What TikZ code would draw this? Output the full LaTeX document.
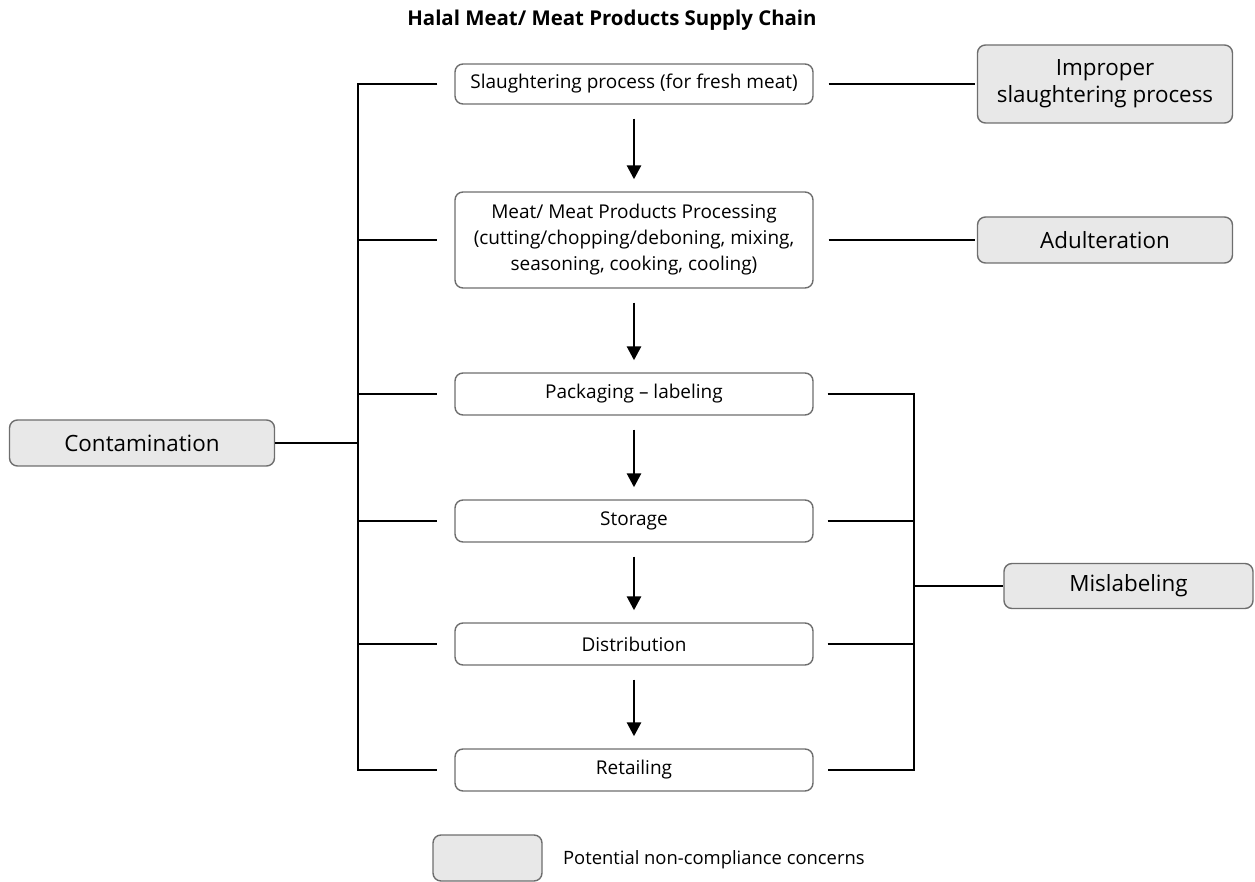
\documentclass[tikz,border=0pt]{standalone}
\usepackage{fontspec}
\setmainfont{Open Sans}
\usetikzlibrary{arrows.meta}

\definecolor{boxgray}{HTML}{E8E8E8}
\definecolor{edgegray}{HTML}{6E6E6E}

\begin{document}
\begin{tikzpicture}[x=0.5pt,y=-0.5pt,
    stage/.style={draw=edgegray,line width=0.7pt,rounded corners=4pt,fill=white,
      minimum width=179pt,minimum height=20pt,inner sep=0pt,align=center,
      font=\fontsize{9.5}{13}\selectfont},
    concern/.style={draw=edgegray,line width=0.7pt,rounded corners=4pt,fill=boxgray,
      minimum width=127.5pt,minimum height=23pt,inner sep=0pt,align=center,
      font=\fontsize{11.2}{13.5}\selectfont},
    link/.style={line width=1pt},
    flow/.style={line width=1.4pt,-{Triangle[length=7pt,width=7pt]},
      shorten <=7pt,shorten >=6pt}]
  \useasboundingbox (0,0) rectangle (1255,882);
  \node[font=\bfseries\fontsize{10.2}{12}\selectfont] (title) at (612,20)
    {Halal Meat/ Meat Products Supply Chain};

  \node[stage] (slaughter) at (634,84) {Slaughtering process (for fresh meat)};
  \node[stage,minimum height=48pt] (processing) at (634,240)
    {Meat/ Meat Products Processing\\(cutting/chopping/deboning, mixing,\\seasoning, cooking, cooling)};
  \node[stage,minimum height=21pt] (packaging) at (634,394) {Packaging -- labeling};
  \node[stage,minimum height=21pt] (storage) at (634,521) {Storage};
  \node[stage,minimum height=21pt] (distribution) at (634,644) {Distribution};
  \node[stage,minimum height=21pt] (retailing) at (634,770) {Retailing};

  \node[concern,minimum height=39pt] (improper) at (1105,84) {Improper\\slaughtering process};
  \node[concern] (adulteration) at (1105,240) {Adulteration};
  \node[concern,minimum width=132.5pt] (contamination) at (142,443) {Contamination};
  \node[concern,minimum width=124.5pt,minimum height=22.5pt] (mislabeling) at (1128.5,586) {Mislabeling};

  \node[concern,minimum width=54.5pt] (legend) at (487.5,858) {};
  \node[anchor=west,font=\fontsize{9.2}{11}\selectfont] (legendtext) at (556,860)
    {Potential non-compliance concerns};

  \coordinate (lbar) at (358,443);
  \coordinate (rbar) at (914,586);

  \draw[flow] (slaughter) -- (processing);
  \draw[flow] (processing) -- (packaging);
  \draw[flow] (packaging) -- (storage);
  \draw[flow] (storage) -- (distribution);
  \draw[flow] (distribution) -- (retailing);

  \draw[link,shorten <=8.5pt,shorten >=8.5pt] (slaughter.west) -| (lbar) |- (retailing.west);
  \foreach \n in {processing,packaging,storage,distribution}
    \draw[link,shorten >=8.5pt] (lbar |- \n.west) -- (\n.west);
  \draw[link] (contamination.east) -- (lbar);

  \draw[link,shorten <=7.5pt,shorten >=1pt] (slaughter.east) -- (improper.west);
  \draw[link,shorten <=7.5pt,shorten >=1pt] (processing.east) -- (adulteration.west);

  \draw[link,shorten <=7pt,shorten >=7pt] (packaging.east) -| (rbar) |- (retailing.east);
  \foreach \n in {storage,distribution}
    \draw[link,shorten <=7pt] (\n.east) -- (\n.east -| rbar);
  \draw[link] (rbar) -- (mislabeling.west);
\end{tikzpicture}
\end{document}
